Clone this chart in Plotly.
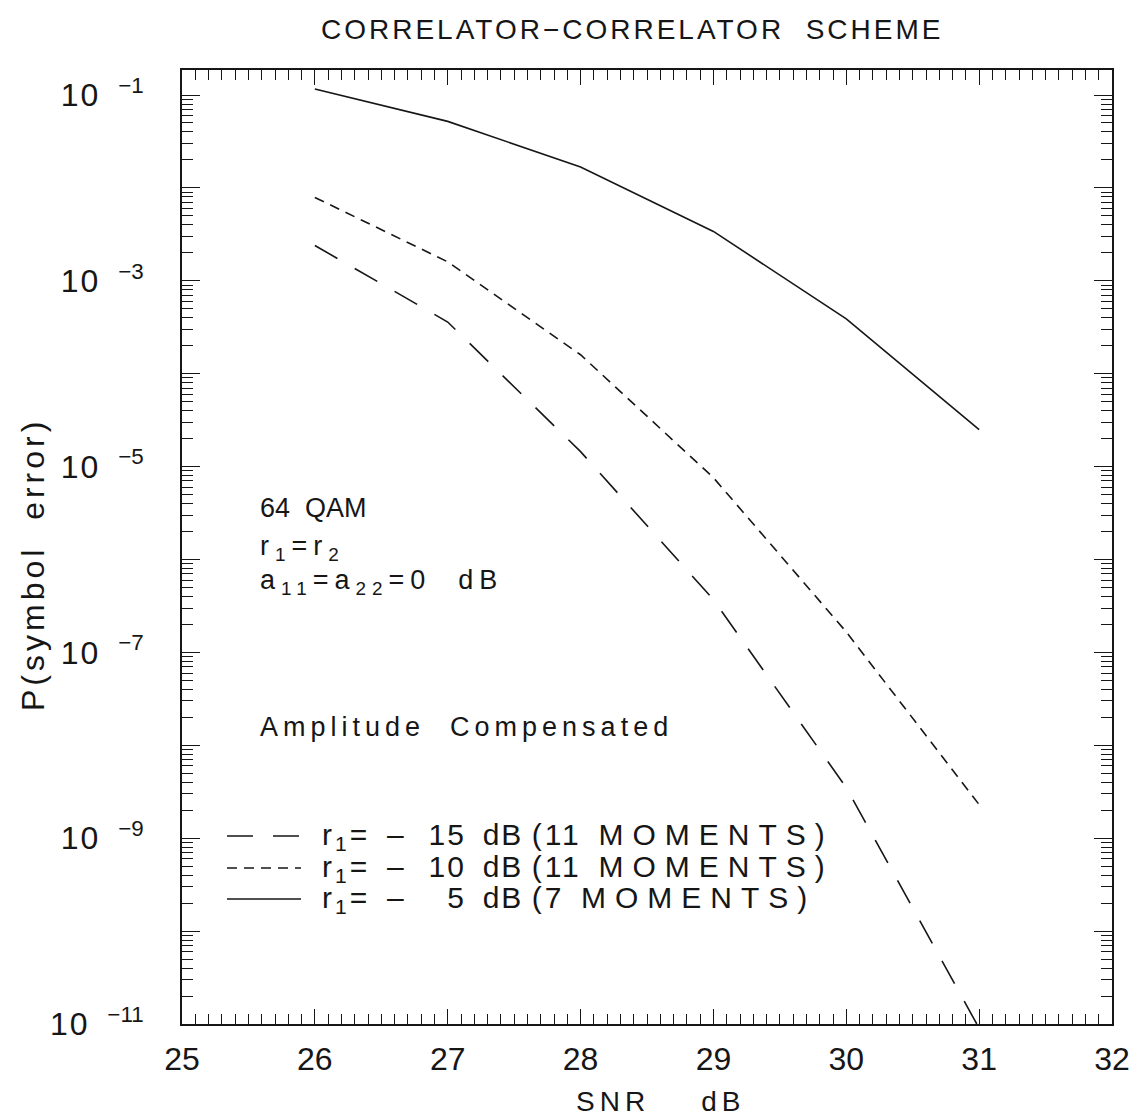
import plotly.graph_objects as go

# SNR sample points (dB)
snr_db = [26, 27, 28, 29, 30, 31]

# Symbol error probability for each interferer level
pe_r15 = [2.4e-3, 3.6e-4, 1.45e-5, 3.7e-7, 3.5e-9, 9e-12]   # r1 = -15 dB, 11 moments
pe_r10 = [7.9e-3, 1.6e-3, 1.6e-4, 7.6e-6, 1.66e-7, 2.3e-9]  # r1 = -10 dB, 11 moments
pe_r5 = [0.116, 0.052, 0.0168, 3.4e-3, 3.9e-4, 2.5e-5]      # r1 = -5 dB, 7 moments

r1_levels = ["15", "10", "\u20075"]
moment_counts = ["11", "11", "7"]

x_ticks = [25, 26, 27, 28, 29, 30, 31, 32]
y_decades = list(range(-11, 0))

FONT = "Liberation Sans"
INK = "#161616"
NB = "\u00a0"

# plot box in pixels
W, H = 1143, 1118
L, R, T, B = 182, 1112, 70, 1024


def spaced(text, px):
    """Wrap text in a span with extra letter spacing (plotter-style lettering)."""
    return f'<span style="letter-spacing:{px}px">{text}</span>'


def px_x(px):
    return (px - L) / (R - L)


def px_y(py):
    return (B - py) / (B - T)


y_tickvals = [10.0 ** e for e in y_decades]
y_ticktext = [spaced("10", 2) + NB * 2 + f"<sup>\u2212{-e}</sup>" if e % 2 else ""
              for e in y_decades]

dash_styles = ["26px,20px", "10px,7px", "solid"]
series = [pe_r15, pe_r10, pe_r5]
names = [f"r1 = -{lv.strip()} dB" for lv in r1_levels]

fig = go.Figure()
for name, dash, ys in zip(names, dash_styles, series):
    fig.add_trace(go.Scatter(
        x=snr_db, y=ys, mode="lines", name=name,
        line=dict(color=INK, width=1.6, dash=dash),
    ))

axis_common = dict(
    showgrid=False, zeroline=False, showline=True, mirror="allticks",
    linecolor=INK, linewidth=1.8, ticks="inside", tickcolor=INK, tickwidth=1.3,
)

fig.update_xaxes(
    range=[25, 32], tickvals=x_ticks, ticklen=15,
    tickfont=dict(family=FONT, size=32, color=INK), ticklabelstandoff=6,
    minor=dict(dtick=0.1, ticks="inside", ticklen=10, tickcolor=INK, tickwidth=1.2),
    **axis_common,
)
fig.update_yaxes(
    type="log", range=[-11, -11 + (B - T) / 92.9], tickvals=y_tickvals, ticktext=y_ticktext,
    ticklen=18, tickfont=dict(family=FONT, size=32, color=INK), ticklabelstandoff=30,
    minor=dict(dtick="D1", ticks="inside", ticklen=11, tickcolor=INK, tickwidth=1.2),
    **axis_common,
)


def add_text(text, x_px, y_px, size, xanchor="left", angle=0):
    fig.add_annotation(text=text, x=px_x(x_px), y=px_y(y_px), xref="paper", yref="paper",
                       xanchor=xanchor, yanchor="middle", showarrow=False, textangle=angle,
                       font=dict(family=FONT, size=size, color=INK))


# chart and axis titles
add_text(spaced("CORRELATOR\u2212CORRELATOR" + NB * 2 + "SCHEME", 3), 632, 30, 28, "center")
add_text(spaced("SNR" + NB * 4 + "dB", 5), 660, 1101, 28, "center")
add_text(spaced("P(symbol" + NB * 2 + "error)", 4), 33, 565, 32, "center", -90)

# condition notes
add_text("64" + NB * 2 + "QAM", 258, 508, 27)
add_text(spaced("r<sub>1</sub>=r<sub>2</sub>", 6), 258, 548, 27)
add_text(spaced("a<sub>11</sub>=a<sub>22</sub>=0" + NB * 2 + "dB", 6), 258, 582, 27)
add_text(spaced("Amplitude" + NB * 2 + "Compensated", 5), 258, 727, 27)

# legend: key line + label per series
legend_rows = [836, 868, 899]
for dash, lv, mc, py in zip(dash_styles, r1_levels, moment_counts, legend_rows):
    fig.add_shape(type="line", xref="paper", yref="paper",
                  x0=px_x(227), x1=px_x(301), y0=px_y(py), y1=px_y(py),
                  line=dict(color=INK, width=1.6, dash=dash))
    label = (spaced("r<sub>1</sub>=", 3) + NB * 2 + "\u2013" + NB * 3
             + spaced(lv, 2) + NB * 2 + spaced("dB", 2) + NB
             + spaced("(" + mc, 3) + NB * 2 + spaced("MOMENTS)", 9))
    add_text(label, 320, py, 30)

fig.update_layout(
    width=W, height=H,
    margin=dict(l=L, r=W - R, t=T, b=H - B),
    paper_bgcolor="white", plot_bgcolor="white",
    showlegend=False,
)

fig.write_html("out.html")
